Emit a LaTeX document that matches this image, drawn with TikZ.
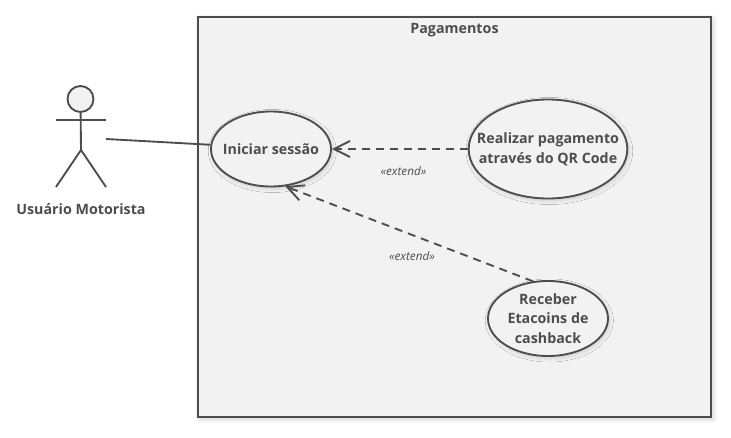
\documentclass[tikz,border=0pt]{standalone}
\usepackage{fontspec}
\setmainfont{Open Sans}
\usetikzlibrary{arrows.meta,shadows.blur,shapes.geometric}
\definecolor{umlline}{HTML}{4D4D4D}
\definecolor{umlfill}{HTML}{F2F2F2}
\tikzset{
	boldtext/.style={text=umlline,font=\fontsize{10.7}{14.8}\selectfont\bfseries,align=center},
	usecase/.style={ellipse,draw=umlline,line width=1.4pt,fill=umlfill,inner sep=0pt,
		blur shadow={shadow xshift=1pt,shadow yshift=-1.5pt,shadow blur radius=3pt,shadow blur steps=16,shadow opacity=16}},
	stickman/.style={draw=umlline,line width=1.4pt},
	extendline/.style={draw=umlline,line width=1.4pt,dash pattern=on 6pt off 4.5pt,
		-{Straight Barb[length=12pt,width=12pt,line width=1.4pt]}},
	stereotype/.style={text=umlline,font=\fontsize{8.8}{10}\selectfont\itshape}
}
\begin{document}
\begin{tikzpicture}[x=0.75pt,y=-0.75pt]
		%%%%% START %%%%%
		\useasboundingbox (0,0) rectangle (731,438);
		
		\node[draw=umlline,line width=1.8pt,fill=umlfill,minimum width=384.75pt,minimum height=300pt,inner sep=0pt,
			blur shadow={shadow xshift=1.5pt,shadow yshift=-1.5pt,shadow blur radius=4pt,shadow blur steps=8,shadow opacity=18}] (pagamentos) at (454.5,217) {};
		\node[boldtext] (pagamentostitle) at (454.5,30) {Pagamentos};
		
		\node[usecase,minimum width=90pt,minimum height=56.25pt,label={[boldtext]center:Iniciar sessão}] (iniciar) at (271,149) {};
		\node[usecase,minimum width=119pt,minimum height=74.25pt,label={[boldtext]center:{Realizar pagamento\\através do QR Code}}] (realizar) at (548,149) {};
		\node[usecase,minimum width=90pt,minimum height=56.25pt,label={[boldtext]center:{Receber\\Etacoins de\\cashback}}] (receber) at (548,318.5) {};
		
		% actor
		\node[circle,stickman,fill=umlfill,minimum size=19.5pt,inner sep=0pt] (cabeca) at (80.5,99) {};
		\coordinate (quadril) at (81,150);
		\coordinate (maoesq) at (56,120);
		\coordinate (maodir) at (106,120);
		\coordinate (peesq) at (56,187);
		\coordinate (pedir) at (106,187);
		\coordinate (ator) at (106,139);
		\draw[stickman] (cabeca) -- (quadril);
		\draw[stickman] (maoesq) -- (maodir);
		\draw[stickman] (peesq) -- (quadril) -- (pedir);
		\node[boldtext] (motorista) at (81,209) {Usuário Motorista};
		
		\draw[stickman] (ator) -- (iniciar.176);
		\draw[extendline] (realizar.west) -- (iniciar.east);
		\draw[extendline] (receber.112) -- (iniciar.291);
		
		\node[stereotype] (extend1) at (403.5,171.5) {«extend»};
		\node[stereotype] (extend2) at (412,256.5) {«extend»};
		%%%%% END %%%%%
	\end{tikzpicture}
\end{document}
